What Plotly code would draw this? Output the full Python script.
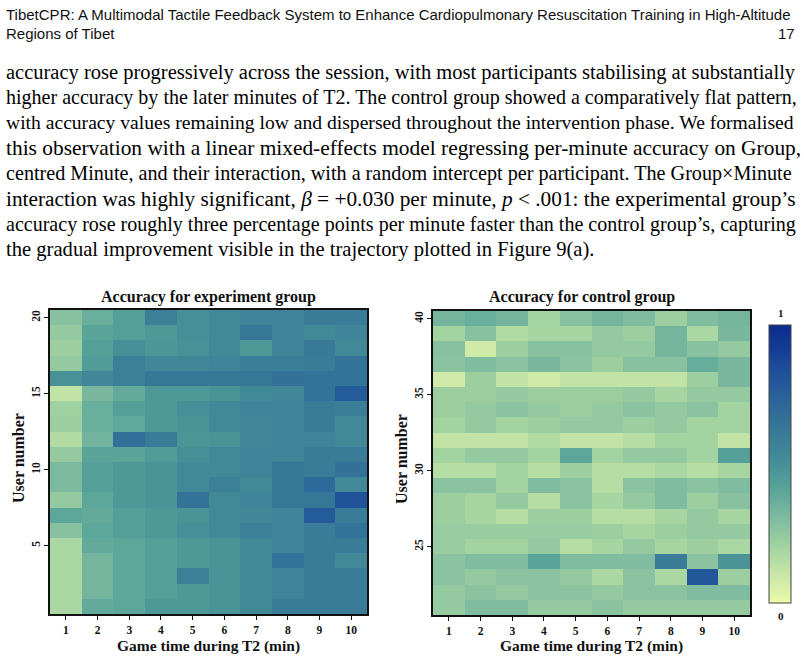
import plotly.graph_objects as go

minutes = list(range(1, 11))
exp_users = list(range(1, 21))
ctrl_users = list(range(21, 41))

# accuracy per user (rows: user 1..20), per minute (cols 1..10)
exp_acc = [
    [0.18, 0.38, 0.40, 0.46, 0.46, 0.48, 0.53, 0.60, 0.60, 0.60],
    [0.18, 0.33, 0.40, 0.43, 0.46, 0.48, 0.53, 0.56, 0.60, 0.60],
    [0.18, 0.33, 0.40, 0.43, 0.58, 0.48, 0.53, 0.56, 0.60, 0.60],
    [0.18, 0.33, 0.40, 0.43, 0.46, 0.48, 0.53, 0.65, 0.60, 0.53],
    [0.18, 0.38, 0.40, 0.43, 0.46, 0.48, 0.53, 0.56, 0.60, 0.60],
    [0.28, 0.40, 0.43, 0.46, 0.50, 0.53, 0.58, 0.56, 0.60, 0.65],
    [0.40, 0.38, 0.43, 0.46, 0.48, 0.53, 0.54, 0.56, 0.78, 0.60],
    [0.24, 0.40, 0.46, 0.48, 0.65, 0.53, 0.56, 0.63, 0.63, 0.82],
    [0.31, 0.43, 0.46, 0.48, 0.53, 0.58, 0.53, 0.63, 0.70, 0.53],
    [0.31, 0.43, 0.46, 0.48, 0.53, 0.53, 0.56, 0.63, 0.60, 0.66],
    [0.24, 0.41, 0.41, 0.45, 0.50, 0.53, 0.56, 0.56, 0.60, 0.60],
    [0.16, 0.34, 0.67, 0.60, 0.47, 0.48, 0.54, 0.56, 0.56, 0.53],
    [0.22, 0.36, 0.39, 0.46, 0.48, 0.53, 0.54, 0.56, 0.60, 0.53],
    [0.21, 0.36, 0.43, 0.46, 0.50, 0.53, 0.56, 0.56, 0.60, 0.59],
    [0.12, 0.32, 0.38, 0.46, 0.46, 0.48, 0.53, 0.54, 0.65, 0.78],
    [0.49, 0.55, 0.58, 0.63, 0.63, 0.63, 0.63, 0.66, 0.65, 0.65],
    [0.24, 0.45, 0.58, 0.54, 0.54, 0.56, 0.59, 0.59, 0.60, 0.65],
    [0.22, 0.43, 0.50, 0.47, 0.49, 0.53, 0.46, 0.56, 0.61, 0.53],
    [0.24, 0.41, 0.43, 0.46, 0.50, 0.53, 0.63, 0.56, 0.53, 0.56],
    [0.28, 0.36, 0.43, 0.58, 0.50, 0.53, 0.56, 0.56, 0.60, 0.60],
]

# rows: user 21..40
ctrl_acc = [
    [0.24, 0.30, 0.30, 0.24, 0.24, 0.27, 0.24, 0.24, 0.24, 0.24],
    [0.24, 0.27, 0.24, 0.27, 0.27, 0.24, 0.27, 0.27, 0.30, 0.30],
    [0.27, 0.24, 0.27, 0.27, 0.24, 0.18, 0.27, 0.18, 0.80, 0.22],
    [0.27, 0.30, 0.30, 0.41, 0.30, 0.30, 0.30, 0.60, 0.27, 0.48],
    [0.23, 0.20, 0.20, 0.24, 0.15, 0.19, 0.24, 0.19, 0.22, 0.18],
    [0.23, 0.23, 0.23, 0.23, 0.23, 0.22, 0.19, 0.22, 0.24, 0.24],
    [0.22, 0.19, 0.15, 0.22, 0.22, 0.15, 0.15, 0.19, 0.24, 0.19],
    [0.22, 0.19, 0.24, 0.15, 0.27, 0.19, 0.24, 0.30, 0.22, 0.28],
    [0.27, 0.27, 0.20, 0.30, 0.27, 0.15, 0.27, 0.30, 0.27, 0.30],
    [0.15, 0.15, 0.20, 0.15, 0.22, 0.15, 0.15, 0.18, 0.15, 0.19],
    [0.20, 0.24, 0.24, 0.20, 0.40, 0.20, 0.24, 0.24, 0.20, 0.43],
    [0.12, 0.12, 0.12, 0.16, 0.12, 0.12, 0.15, 0.20, 0.20, 0.12],
    [0.20, 0.24, 0.20, 0.22, 0.24, 0.24, 0.22, 0.24, 0.20, 0.20],
    [0.22, 0.24, 0.27, 0.24, 0.22, 0.24, 0.27, 0.24, 0.27, 0.20],
    [0.22, 0.22, 0.24, 0.22, 0.22, 0.22, 0.24, 0.19, 0.24, 0.24],
    [0.08, 0.22, 0.12, 0.08, 0.12, 0.12, 0.12, 0.12, 0.22, 0.32],
    [0.27, 0.30, 0.27, 0.32, 0.27, 0.22, 0.28, 0.28, 0.37, 0.32],
    [0.28, 0.08, 0.22, 0.28, 0.28, 0.24, 0.24, 0.33, 0.28, 0.24],
    [0.20, 0.28, 0.16, 0.19, 0.19, 0.24, 0.22, 0.33, 0.18, 0.32],
    [0.33, 0.36, 0.33, 0.20, 0.28, 0.33, 0.30, 0.22, 0.30, 0.33],
]

exp_yticks = [5, 10, 15, 20]
ctrl_yticks = [25, 30, 35, 40]

header_lines = [
    "TibetCPR: A Multimodal Tactile Feedback System to Enhance Cardiopulmonary Resuscitation Training in High-Altitude",
    "Regions of Tibet",
]
page_number = "17"
body_lines = [
    "accuracy rose progressively across the session, with most participants stabilising at substantially",
    "higher accuracy by the later minutes of T2. The control group showed a comparatively flat pattern,",
    "with accuracy values remaining low and dispersed throughout the intervention phase. We formalised",
    "this observation with a linear mixed-effects model regressing per-minute accuracy on Group,",
    "centred Minute, and their interaction, with a random intercept per participant. The Group×Minute",
    "interaction was highly significant, <i>β</i> = +0.030 per minute, <i>p</i> &lt; .001: the experimental group’s",
    "accuracy rose roughly three percentage points per minute faster than the control group’s, capturing",
    "the gradual improvement visible in the trajectory plotted in Figure 9(a).",
]

W, H = 804, 658
SERIF = "Liberation Serif"
SANS = "Liberation Sans"

colorscale = [
    [0.0, "#ebfaa8"],
    [0.1, "#c9e7a8"],
    [0.2, "#a3d3a0"],
    [0.3, "#80bca0"],
    [0.4, "#5ca69a"],
    [0.5, "#468f97"],
    [0.6, "#3a7c98"],
    [0.7, "#2e6a99"],
    [0.8, "#22579a"],
    [0.9, "#163f95"],
    [1.0, "#0b2b8f"],
]

fig = go.Figure()
fig.add_trace(go.Heatmap(x=minutes, y=exp_users, z=exp_acc, coloraxis="coloraxis",
                         xaxis="x", yaxis="y"))
fig.add_trace(go.Heatmap(x=minutes, y=ctrl_users, z=ctrl_acc, coloraxis="coloraxis",
                         xaxis="x2", yaxis="y2"))

def px_x(p):
    return p / W

def px_y(p):
    return 1 - p / H

axis_common = dict(
    showline=True, mirror=True, linecolor="#111", linewidth=1.5,
    ticks="outside", ticklen=4, tickcolor="#111", tickwidth=1,
    showgrid=False, zeroline=False,
    tickfont=dict(family=SERIF, size=11.5, color="#111", weight="bold"),
)

fig.update_layout(
    width=W, height=H,
    margin=dict(l=0, r=0, t=0, b=0),
    paper_bgcolor="white", plot_bgcolor="white",
    xaxis=dict(domain=[px_x(50), px_x(367)], range=[0.5, 10.5], tickvals=minutes,
               anchor="y", **axis_common),
    yaxis=dict(domain=[px_y(614), px_y(310)], range=[0.5, 20.5], tickvals=exp_yticks,
               tickangle=-90, anchor="x", **axis_common),
    xaxis2=dict(domain=[px_x(433), px_x(750)], range=[0.5, 10.5], tickvals=minutes,
                anchor="y2", **axis_common),
    yaxis2=dict(domain=[px_y(615), px_y(311)], range=[20.5, 40.5], tickvals=ctrl_yticks,
                tickangle=-90, anchor="x2", **axis_common),
    coloraxis=dict(
        cmin=0, cmax=1, colorscale=colorscale,
        colorbar=dict(
            x=px_x(769), xanchor="left", y=px_y(464), yanchor="middle",
            thickness=22, thicknessmode="pixels", len=278, lenmode="pixels",
            outlinewidth=1, outlinecolor="#444", showticklabels=False, ticks="",
            xpad=0, ypad=0,
        ),
    ),
    showlegend=False,
)

ann = []
def add_text(text, x, y, size, family, xanchor="center", yanchor="middle", bold=False, angle=0, color="#111"):
    ann.append(dict(
        text=text, x=px_x(x), y=px_y(y), xref="paper", yref="paper",
        xanchor=xanchor, yanchor=yanchor, showarrow=False, textangle=angle,
        font=dict(family=family, size=size, color=color, weight="bold" if bold else "normal"),
    ))

# page header
add_text(header_lines[0], 4, 15, 15, SANS, xanchor="left")
add_text(header_lines[1], 4, 33, 15, SANS, xanchor="left")
add_text(page_number, 797, 33, 15, SANS, xanchor="right")

# body text (sizes tuned per line to approximate the justified block)
line_y = [72, 97, 122, 148, 173, 199, 224, 249]
line_size = [20.5, 20.05, 19.6, 21.4, 20.15, 21.3, 20.05, 20.6]
for t, yy, sz in zip(body_lines, line_y, line_size):
    add_text(t, 4, yy, sz, SERIF, xanchor="left", color="#000")

# chart titles
add_text("Accuracy for experiment group", 208, 297, 16, SERIF, bold=True)
add_text("Accuracy for control group", 582, 297, 16, SERIF, bold=True)
# axis titles
add_text("Game time during T2 (min)", 208, 646, 15.5, SERIF, bold=True)
add_text("Game time during T2 (min)", 591, 646, 15.5, SERIF, bold=True)
add_text("User number", 18, 458, 16, SERIF, bold=True, angle=-90)
add_text("User number", 401, 459, 16, SERIF, bold=True, angle=-90)
# colorbar end labels
add_text("1", 781, 313, 11, SERIF, bold=True)
add_text("0", 781, 616, 11, SERIF, bold=True)

fig.update_layout(annotations=ann)
fig.write_html("out.html")
